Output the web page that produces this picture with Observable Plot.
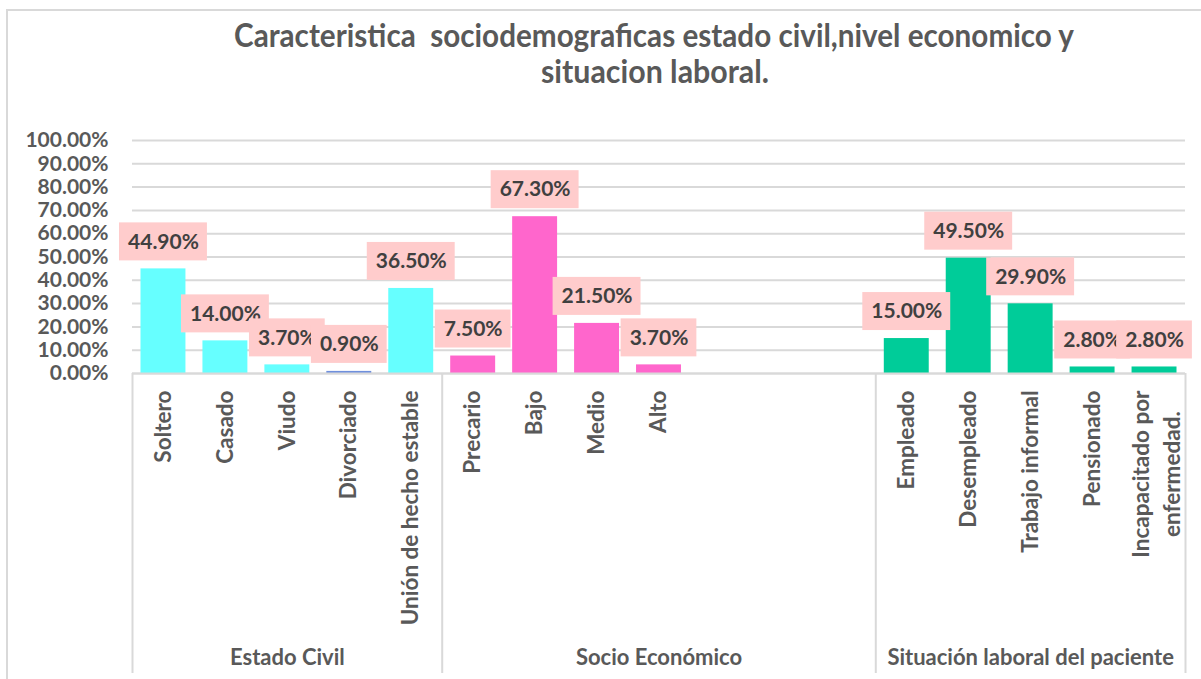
<!DOCTYPE html>
<html>
<head>
<meta charset="utf-8">
<script src="https://cdn.jsdelivr.net/npm/d3@7"></script>
<script src="https://cdn.jsdelivr.net/npm/@observablehq/plot@0.6"></script>
<style>
  html, body { margin: 0; padding: 0; background: #fff; }
  #wrap { position: relative; width: 1201px; height: 679px; overflow: hidden; }
  #border { position: absolute; left: 6px; top: 9px; width: 1400px; height: 900px; border: 2px solid #d9d9d9; pointer-events: none; }
</style>
</head>
<body>
<div id="wrap"><div id="border"></div></div>
<script>
// ---- data ----
const groups = ["Estado Civil", "Socio Económico", "Situación laboral del paciente"];
const estadoCivil = ["Soltero", "Casado", "Viudo", "Divorciado", "Unión de hecho estable"];
const estadoCivilValues = [44.9, 14.0, 3.7, 0.9, 36.5];
const socioEconomico = ["Precario", "Bajo", "Medio", "Alto", "", "", ""];
const socioEconomicoValues = [7.5, 67.3, 21.5, 3.7, null, null, null];
const laboral = ["Empleado", "Desempleado", "Trabajo informal", "Pensionado", "Incapacitado por\nenfermedad."];
const laboralValues = [15.0, 49.5, 29.9, 2.8, 2.8];
const yTicks = [0, 10, 20, 30, 40, 50, 60, 70, 80, 90, 100];
const titleLines = ["Caracteristica \u00a0sociodemograficas estado civil,nivel economico y", "situacion laboral."];

// ---- styling ----
const colCyan = "#66ffff", colDiv = "#6f8fdc", colPink = "#ff66cc", colGreen = "#00cc99";
const FONT = "Lato";
const W = 1201, H = 679, mL = 132, mR = 16, mT = 140, mB = 306;

const groupCats = [estadoCivil, socioEconomico, laboral];
const groupVals = [estadoCivilValues, socioEconomicoValues, laboralValues];
const groupCols = [
  estadoCivil.map(c => c === "Divorciado" ? colDiv : colCyan),
  socioEconomico.map(() => colPink),
  laboral.map(() => colGreen)
];

const rows = [];
const groupSpans = [];
let idx = 0;
groupCats.forEach((cats, g) => {
  const start = idx;
  cats.forEach((c, k) => {
    rows.push({i: idx, group: groups[g], label: c, value: groupVals[g][k], color: groupCols[g][k]});
    idx++;
  });
  groupSpans.push({group: groups[g], start, end: idx});
});
const N = idx;
const boundaries = [0, ...groupSpans.map(s => s.end)];
const slotW = (W - mL - mR) / N;

const canvas = document.createElement("canvas");
const ctx = canvas.getContext("2d");
function textW(t, size) { ctx.font = `bold ${size}px ${FONT}`; return ctx.measureText(t).width; }

const valued = rows.filter(r => r.value != null);
const LABEL_SIZE = 21;
const labelMarks = valued.flatMap(d => {
  const txt = d.value.toFixed(2) + "%";
  const boxW = textW(txt, LABEL_SIZE) + 17;
  const inset = (slotW - boxW) / 2;
  return [
    Plot.rect([d], {x1: "i", x2: r => r.i + 1, y1: "value", y2: "value", fill: "#ffcccc",
      insetTop: -46, insetBottom: 8, insetLeft: inset, insetRight: inset}),
    Plot.text([d], {x: r => r.i + 0.5, y: "value", text: () => txt, dy: -27,
      fontSize: LABEL_SIZE, fontWeight: "bold", fill: "#404040"})
  ];
});

const singleCats = rows.filter(r => r.label && !r.label.includes("\n"));
const multiCats = rows.filter(r => r.label && r.label.includes("\n"));

const CAT_SIZE = 22.5;
const multiMarks = multiCats.map(d => {
  const longest = d3.max(d.label.split("\n"), s => textW(s, CAT_SIZE));
  return Plot.text([d], {x: r => r.i + 0.5, text: "label", frameAnchor: "bottom", rotate: -90,
    textAnchor: "middle", lineAnchor: "middle", dy: 17 + longest / 2, lineHeight: 1.4,
    fontSize: CAT_SIZE, fontWeight: "bold", fill: "#595959"});
});

const TITLE_SIZE = 32;
const svg = Plot.plot({
  width: W, height: H,
  marginLeft: mL, marginRight: mR, marginTop: mT, marginBottom: mB,
  style: {fontFamily: FONT, fontWeight: "bold", fontSize: "21px", color: "#595959", background: "transparent", overflow: "visible"},
  x: {domain: [0, N], axis: null},
  y: {domain: [0, 100], ticks: yTicks.length - 1, tickFormat: d => d.toFixed(2) + "%", tickSize: 0, tickPadding: 24, label: null},
  marks: [
    Plot.ruleY(yTicks, {stroke: "#d9d9d9", strokeWidth: 2}),
    Plot.rect(valued, {x1: "i", x2: d => d.i + 1, y1: 0, y2: "value", fill: "color", insetLeft: 8.5, insetRight: 8.5}),
    Plot.ruleY([0], {stroke: "#d9d9d9", strokeWidth: 2}),
    Plot.ruleX(boundaries, {stroke: "#d9d9d9", strokeWidth: 2, insetTop: H - mT - mB, insetBottom: -300}),
    ...labelMarks,
    Plot.text(singleCats, {x: d => d.i + 0.5, text: "label", frameAnchor: "bottom", rotate: -90,
      textAnchor: "end", lineAnchor: "middle", dy: 17, fontSize: CAT_SIZE, fontWeight: "bold", fill: "#595959"}),
    ...multiMarks,
    Plot.text(groupSpans, {x: d => (d.start + d.end) / 2, text: "group", frameAnchor: "bottom", lineAnchor: "middle", dy: 284,
      fontSize: 22, fontWeight: "bold", fill: "#595959"}),
    Plot.text([titleLines[0]], {text: d => d, frameAnchor: "top", lineAnchor: "middle", dx: -5, dy: -104, fontSize: TITLE_SIZE,
      fontWeight: "bold", fill: "#595959"}),
    Plot.text([titleLines[1]], {text: d => d, frameAnchor: "top", lineAnchor: "middle", dx: -4, dy: -68, fontSize: TITLE_SIZE,
      fontWeight: "bold", fill: "#595959"})
  ]
});

const titleWidths = [840, 228];
d3.select(svg).selectAll("text").each(function () {
  const k = titleLines.indexOf(this.textContent);
  if (k >= 0) {
    this.setAttribute("textLength", titleWidths[k]);
    this.setAttribute("lengthAdjust", "spacingAndGlyphs");
  }
});

svg.style.position = "absolute";
svg.style.left = "0";
svg.style.top = "0";
document.getElementById("wrap").appendChild(svg);
</script>
</body>
</html>
